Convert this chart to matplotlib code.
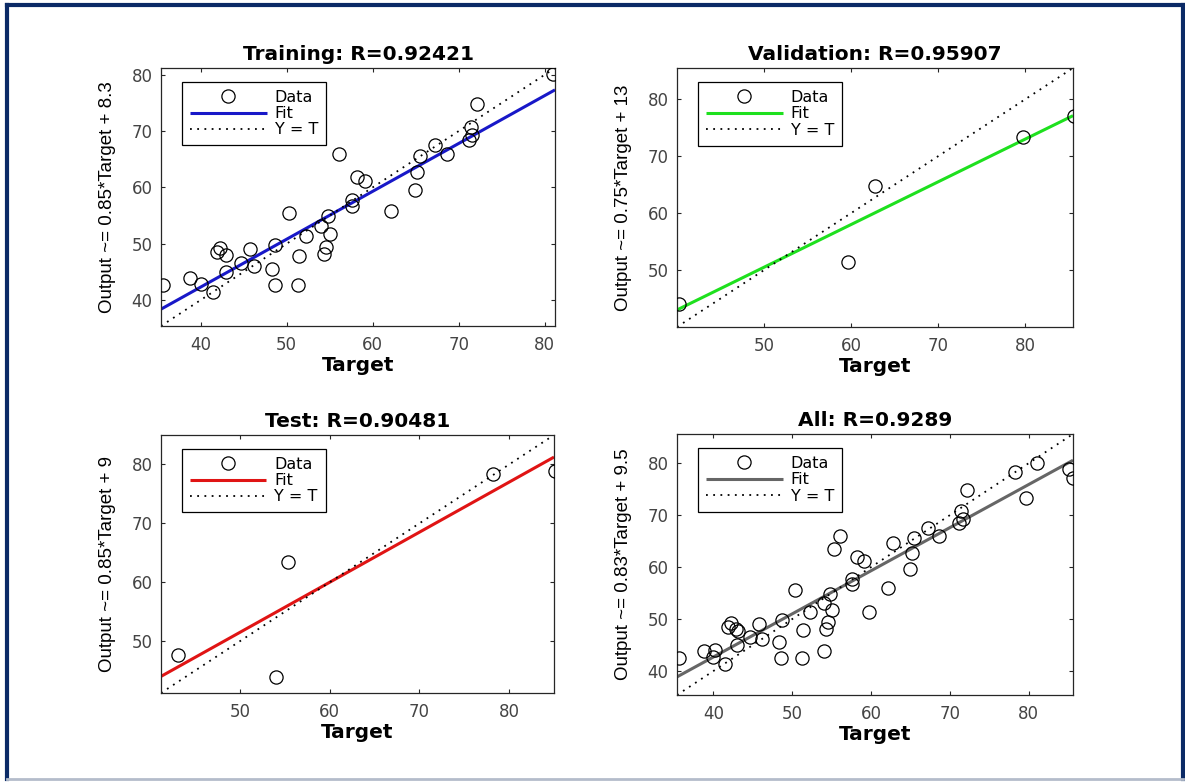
import matplotlib
matplotlib.use("Agg")
import matplotlib.pyplot as plt
from matplotlib import font_manager
from matplotlib.lines import Line2D
import numpy as np

# Training set (target, output)
train_t = [35.6, 38.8, 40.0, 41.5, 41.9, 42.3, 42.9, 43.0, 44.7, 45.8, 46.2, 48.3, 48.6,
           48.7, 50.3, 51.3, 51.4, 52.2, 54.0, 54.3, 54.6, 54.8, 55.1, 56.1, 57.6, 57.6,
           58.2, 59.1, 62.1, 64.9, 65.2, 65.5, 67.2, 68.6, 71.2, 71.4, 71.6, 72.1, 81.0]
train_y = [42.6, 43.9, 42.8, 41.4, 48.5, 49.3, 48.0, 45.0, 46.5, 49.1, 46.1, 45.5, 42.6,
           49.8, 55.5, 42.6, 47.9, 51.3, 53.1, 48.1, 49.4, 54.9, 51.8, 65.9, 56.7, 57.7,
           61.9, 61.2, 55.9, 59.6, 62.8, 65.6, 67.5, 65.9, 68.5, 70.8, 69.3, 74.8, 80.1]

# Validation set
val_t = [40.2, 59.7, 62.8, 79.7, 85.6]
val_y = [44.1, 51.4, 64.7, 73.3, 77.1]

# Test set
test_t = [43.1, 54.0, 55.3, 78.2, 85.1]
test_y = [47.7, 43.9, 63.5, 78.3, 78.9]

# All = the three sets together
all_t = train_t + val_t + test_t
all_y = train_y + val_y + test_y

titles = ["Training: R=0.92421", "Validation: R=0.95907", "Test: R=0.90481", "All: R=0.9289"]
slopes = [0.85, 0.75, 0.85, 0.83]
intercepts = [8.3, 13, 9, 9.5]
ylabels = ["Output ~= 0.85*Target + 8.3", "Output ~= 0.75*Target + 13",
           "Output ~= 0.85*Target + 9", "Output ~= 0.83*Target + 9.5"]
limits = [(35.4, 81.2), (40.0, 85.5), (41.2, 85.0), (35.4, 85.6)]
ticks = [[40, 50, 60, 70, 80], [50, 60, 70, 80], [50, 60, 70, 80], [40, 50, 60, 70, 80]]
fit_colors = ["#1818c8", "#1ee01e", "#e01414", "#666666"]

available = {f.name for f in font_manager.fontManager.ttflist}
if "Liberation Sans Narrow" in available:
    ylab_font, ylab_size = "Liberation Sans Narrow", 15.5
else:
    ylab_font, ylab_size = "Liberation Sans", 13.5

W, H = 1185, 782
fig = plt.figure(figsize=(W / 100, H / 100), dpi=100)

# axes boxes in pixels: left, top, right, bottom
boxes = [(161, 68, 555, 326), (677, 68, 1073, 327),
         (161, 435, 554, 693), (677, 434, 1073, 695)]

sets = [(train_t, train_y), (val_t, val_y), (test_t, test_y), (all_t, all_y)]

for i, (t, y) in enumerate(sets):
    l, tp, r, b = boxes[i]
    ax = fig.add_axes([l / W, 1 - b / H, (r - l) / W, (b - tp) / H])
    lo, hi = limits[i]
    xs = np.array([lo, hi])

    fit, = ax.plot(xs, slopes[i] * xs + intercepts[i], color=fit_colors[i], lw=2.2,
                   solid_capstyle="butt", zorder=2)
    ident, = ax.plot(xs, xs, color="black", lw=1.3, linestyle=(0, (1, 3)), zorder=2)
    data, = ax.plot(t, y, linestyle="none", marker="o", ms=9.5, mfc="none",
                    mec="black", mew=0.9, zorder=3)

    ax.set_xlim(lo, hi)
    ax.set_ylim(lo, hi)
    ax.set_xticks(ticks[i])
    ax.set_yticks(ticks[i])
    ax.tick_params(direction="in", length=3, width=0.8, top=True, right=True,
                   labelsize=12, labelcolor="#444444", color="#262626")
    ax.tick_params(axis="x", pad=7)
    ax.tick_params(axis="y", pad=6)
    for s in ax.spines.values():
        s.set_color("#262626")
        s.set_linewidth(0.9)

    ax.set_title(titles[i], fontsize=14.5, fontweight="bold", pad=6)
    ax.set_xlabel("Target", fontsize=14.5, fontweight="bold", labelpad=2)
    ax.set_ylabel(ylabels[i], fontsize=ylab_size, family=ylab_font, labelpad=11)

    leg = ax.legend([data, fit, ident], ["Data", "Fit", "Y = T"], loc="upper left",
                    bbox_to_anchor=(0.053, 0.946), borderaxespad=0, fancybox=False,
                    framealpha=1, edgecolor="black", fontsize=11.5, handlelength=4.8,
                    handletextpad=0.5, labelspacing=0.08, borderpad=0.5)
    leg.get_frame().set_linewidth(0.9)

# outer frame
navy = "#0b2a66"
fig.add_artist(Line2D([7 / W, 7 / W], [1 - 5 / H, 1 - 779 / H], color=navy, lw=3))
fig.add_artist(Line2D([1183 / W, 1183 / W], [1 - 5 / H, 1 - 779 / H], color=navy, lw=3))
fig.add_artist(Line2D([7 / W, 1183 / W], [1 - 5 / H, 1 - 5 / H], color=navy, lw=3))
fig.add_artist(Line2D([7 / W, 1183 / W], [1 - 779 / H, 1 - 779 / H], color="#b4bccb", lw=2))

fig.savefig("out.png", dpi=100)
